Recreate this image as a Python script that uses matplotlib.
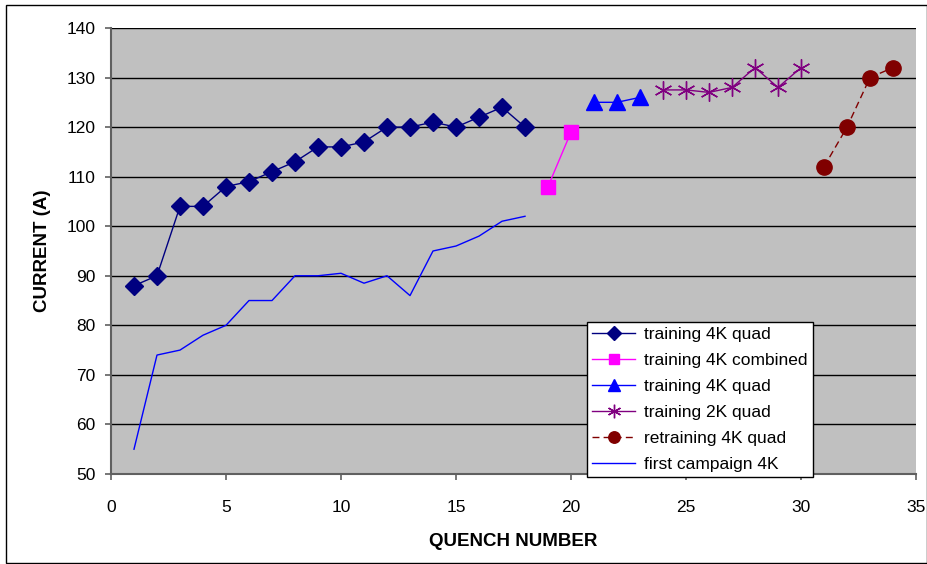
import matplotlib.pyplot as plt
from matplotlib.patches import Rectangle

plt.rcParams['font.family'] = ['Liberation Sans', 'DejaVu Sans']

# quench data
q_quad4k = list(range(1, 19))
i_quad4k = [88, 90, 104, 104, 108, 109, 111, 113, 116, 116, 117, 120, 120, 121, 120, 122, 124, 120]

q_comb4k = [19, 20]
i_comb4k = [108, 119]

q_quad4k_b = [21, 22, 23]
i_quad4k_b = [125, 125, 126]

q_quad2k = [24, 25, 26, 27, 28, 29, 30]
i_quad2k = [127.5, 127.5, 127, 128, 132, 128, 132]

q_retrain = [31, 32, 33, 34]
i_retrain = [112, 120, 130, 132]

q_first = list(range(1, 19))
i_first = [55, 74, 75, 78, 80, 85, 85, 90, 90, 90.5, 88.5, 90, 86, 95, 96, 98, 101, 102]

fig = plt.figure(figsize=(9.28, 5.64), dpi=100)
ax = fig.add_axes([0.1196, 0.1596, 0.8675, 0.7908])
ax.set_facecolor('#c0c0c0')

ax.plot(q_quad4k, i_quad4k, color='#000080', lw=1, marker='D', ms=9, label='training 4K quad')
ax.plot(q_comb4k, i_comb4k, color='#ff00ff', lw=1, marker='s', ms=10, label='training 4K combined')
ax.plot(q_quad4k_b, i_quad4k_b, color='#0000ff', lw=1, marker='^', ms=11, label='training 4K quad')
ax.plot(q_quad2k, i_quad2k, color='#800080', lw=1, marker=(6, 2, 0), ms=13, mew=1,
        label='training 2K quad')
ax.plot(q_retrain, i_retrain, color='#800000', lw=1, ls=(0, (5, 3)), marker='o', ms=11,
        label='retraining 4K quad')
ax.plot(q_first, i_first, color='#0000ff', lw=1, label='first campaign 4K')

ax.set_xlim(0, 35)
ax.set_ylim(50, 140)
ax.set_xticks(range(0, 36, 5))
ax.set_yticks(range(50, 141, 10))
ax.yaxis.grid(True, color='black', lw=1)
ax.set_axisbelow(True)
for side in ['top', 'right']:
    ax.spines[side].set_visible(False)
for side in ['left', 'bottom']:
    ax.spines[side].set_color('#606060')
    ax.spines[side].set_linewidth(1.5)
ax.tick_params(axis='both', labelsize=12.5, color='#606060', width=1.2, length=4)
ax.tick_params(axis='y', pad=7)
ax.tick_params(axis='x', pad=15)

ax.set_xlabel('QUENCH NUMBER', fontsize=13.5, fontweight='bold', labelpad=13)
ax.set_ylabel('CURRENT (A)', fontsize=13.5, fontweight='bold', labelpad=11)

leg = ax.legend(loc='upper left', bbox_to_anchor=(0.591, 0.341), fontsize=12.5,
                frameon=True, fancybox=False, framealpha=1, edgecolor='black',
                borderpad=0.3, labelspacing=0.62, handlelength=2.5, handletextpad=0.5,
                borderaxespad=0, markerscale=0.75)
leg.get_frame().set_linewidth(1)

fig.patches.append(Rectangle((0.007, 0.001), 0.992, 0.990, transform=fig.transFigure,
                             fill=False, edgecolor='black', lw=1))

fig.savefig('out.png', dpi=100)
